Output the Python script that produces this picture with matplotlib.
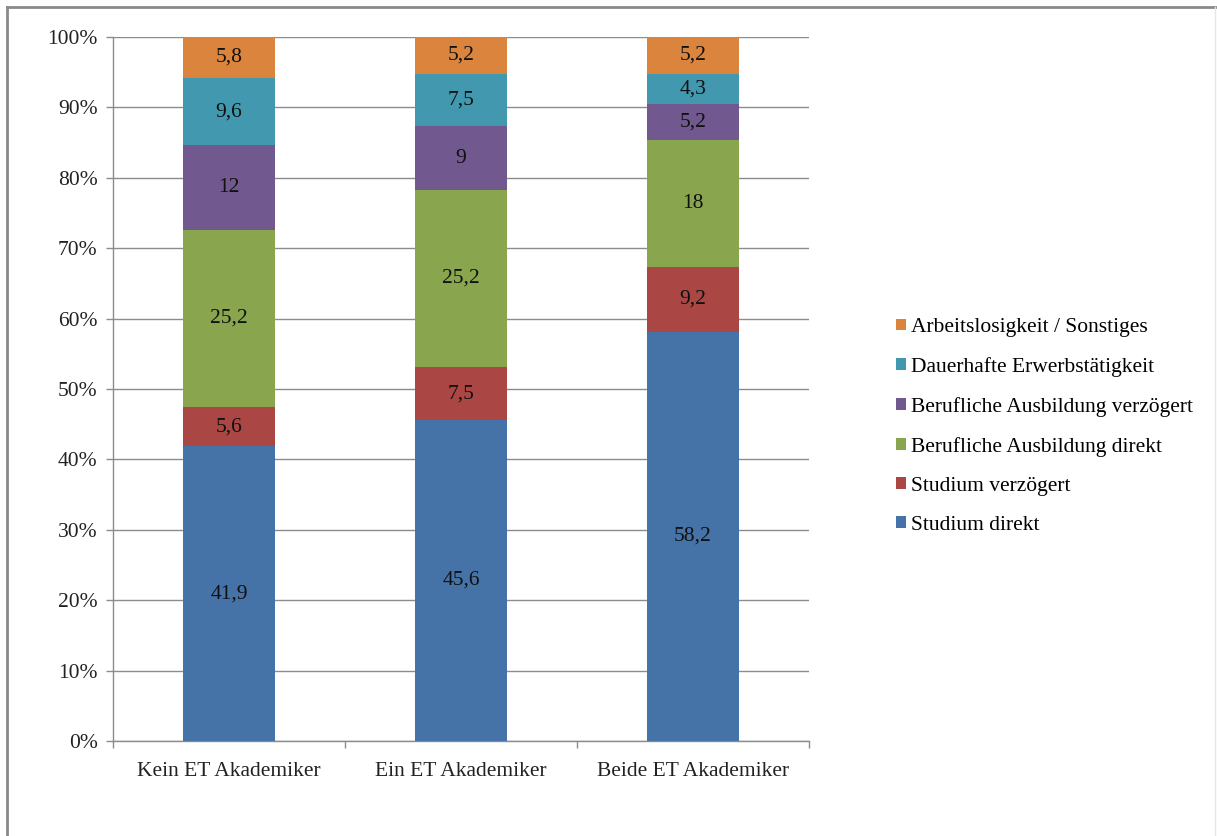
import matplotlib
matplotlib.use("Agg")
import matplotlib.pyplot as plt
from matplotlib.lines import Line2D
import numpy as np

plt.rcParams['font.family'] = ['Liberation Serif', 'DejaVu Serif']

categories = ["Kein ET Akademiker", "Ein ET Akademiker", "Beide ET Akademiker"]
series_names = [
    "Studium direkt",
    "Studium verzögert",
    "Berufliche Ausbildung direkt",
    "Berufliche Ausbildung verzögert",
    "Dauerhafte Erwerbstätigkeit",
    "Arbeitslosigkeit / Sonstiges",
]
studium_direkt = [41.9, 45.6, 58.2]
studium_verzoegert = [5.6, 7.5, 9.2]
ausbildung_direkt = [25.2, 25.2, 18]
ausbildung_verzoegert = [12, 9, 5.2]
erwerbstaetigkeit = [9.6, 7.5, 4.3]
sonstiges = [5.8, 5.2, 5.2]
value_labels = [
    ["41,9", "45,6", "58,2"],
    ["5,6", "7,5", "9,2"],
    ["25,2", "25,2", "18"],
    ["12", "9", "5,2"],
    ["9,6", "7,5", "4,3"],
    ["5,8", "5,2", "5,2"],
]
y_ticks = [0, 10, 20, 30, 40, 50, 60, 70, 80, 90, 100]

colors = ["#4572A7", "#AA4643", "#89A54E", "#71588F", "#4198AF", "#DB843D"]

series = np.array([studium_direkt, studium_verzoegert, ausbildung_direkt,
                   ausbildung_verzoegert, erwerbstaetigkeit, sonstiges], dtype=float)
totals = series.sum(axis=0)
shares = series / totals * 100

FS = 15.5

fig = plt.figure(figsize=(12.17, 8.36), dpi=100)
ax = fig.add_axes([113 / 1217, 1 - 741 / 836, (809 - 113) / 1217, (741 - 37) / 836])

x = np.arange(len(categories))
bottom = np.zeros(len(categories))
handles = []
for i, name in enumerate(series_names):
    bars = ax.bar(x, shares[i], width=0.4, bottom=bottom, color=colors[i],
                  edgecolor="none", label=name, zorder=3)
    for j, b in enumerate(bars):
        ax.text(b.get_x() + b.get_width() / 2, bottom[j] + shares[i][j] / 2,
                value_labels[i][j], ha="center", va="center", fontsize=FS,
                color="#111111", zorder=4)
    bottom += shares[i]
    handles.append(bars)

ax.set_xlim(-0.5, 2.5)
ax.set_ylim(0, 100)
ax.set_yticks(y_ticks)
ax.set_yticklabels([f"{t}%" for t in y_ticks], fontsize=FS, color="#222222")
ax.yaxis.grid(True, color="#8c8c8c", linewidth=1.0, zorder=0)
ax.set_axisbelow(True)

ax.set_xticks(x)
ax.set_xticklabels(categories, fontsize=FS, color="#222222")
ax.tick_params(axis="x", length=0, pad=15)
ax.set_xticks([-0.5, 0.5, 1.5, 2.5], minor=True)
ax.tick_params(axis="x", which="minor", length=5, color="#8c8c8c", width=1)
ax.tick_params(axis="y", length=5, color="#8c8c8c", width=1, pad=6)

for side in ["top", "right"]:
    ax.spines[side].set_visible(False)
for side in ["left", "bottom"]:
    ax.spines[side].set_color("#8c8c8c")
    ax.spines[side].set_linewidth(1.0)

leg = fig.legend(handles[::-1], series_names[::-1], loc="upper left",
                 bbox_to_anchor=(896 / 1217, 1 - 318 / 836), frameon=False,
                 fontsize=FS, handlelength=0.45, handleheight=0.45,
                 handletextpad=0.25, labelspacing=0.93, borderaxespad=0,
                 borderpad=0)

# outer chart frame
fig.add_artist(Line2D([7 / 1217, 7 / 1217], [0, 1 - 7 / 836], transform=fig.transFigure,
                      color="#8a8a8a", linewidth=2))
fig.add_artist(Line2D([7 / 1217, 1], [1 - 7 / 836, 1 - 7 / 836], transform=fig.transFigure,
                      color="#8a8a8a", linewidth=2))
fig.add_artist(Line2D([1215 / 1217, 1215 / 1217], [0, 1 - 7 / 836], transform=fig.transFigure,
                      color="#e6e6e6", linewidth=1))

fig.savefig("out.png", dpi=100)
